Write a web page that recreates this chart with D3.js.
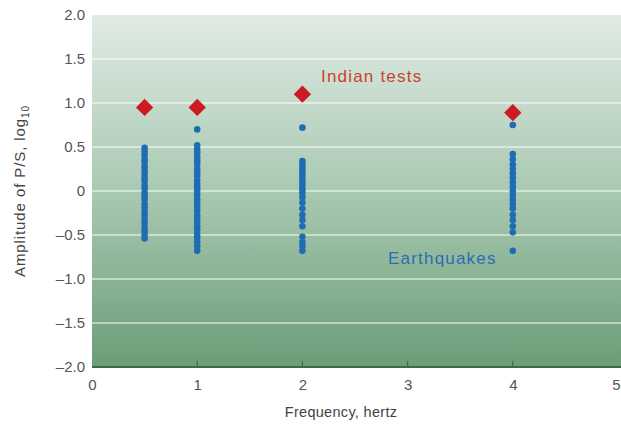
<!DOCTYPE html>
<html><head><meta charset="utf-8">
<script src="https://cdn.jsdelivr.net/npm/d3@7"></script>
<style>body{margin:0;background:#fff}svg{display:block}</style>
</head><body>
<script>
const xTicks = [0,1,2,3,4,5];
const yTicks = [2.0,1.5,1.0,0.5,0,-0.5,-1.0,-1.5,-2.0];
const yTickLabels = ["2.0","1.5","1.0","0.5","0","\u20130.5","\u20131.0","\u20131.5","\u20132.0"];
const testFreq = [0.5, 1, 2, 4];
const testAmp = [0.95, 0.95, 1.10, 0.89];
const eqFreq05 = [0.49,0.45,0.41,0.36,0.33,0.28,0.24,0.2,0.15,0.12,0.07,0.03,-0.02,-0.06,-0.1,-0.15,-0.19,-0.24,-0.28,-0.33,-0.37,-0.42,-0.46,-0.5,-0.54];
const eqFreq1 = [0.7,0.52,0.47,0.43,0.38,0.34,0.3,0.25,0.21,0.17,0.12,0.08,0.04,0,-0.04,-0.09,-0.13,-0.18,-0.22,-0.27,-0.31,-0.35,-0.4,-0.44,-0.49,-0.53,-0.58,-0.63,-0.68];
const eqFreq2 = [0.72,0.34,0.3,0.26,0.22,0.18,0.14,0.1,0.06,0.02,-0.02,-0.07,-0.13,-0.2,-0.27,-0.33,-0.4,-0.52,-0.58,-0.63,-0.68];
const eqFreq4 = [0.75,0.42,0.36,0.3,0.25,0.2,0.15,0.1,0.05,0,-0.05,-0.1,-0.15,-0.2,-0.27,-0.33,-0.4,-0.47,-0.68];

const quakes = [[0.5,eqFreq05],[1,eqFreq1],[2,eqFreq2],[4,eqFreq4]]
  .flatMap(([f,arr]) => arr.map(a => ({f, a})));

const FONT = "Liberation Sans, Arial, sans-serif";
const W = 621, H = 432;
const svg = d3.select("body").append("svg").attr("width", W).attr("height", H);
const x = d3.scaleLinear().domain([0,5]).range([92, 618]);
const y = d3.scaleLinear().domain([-2,2]).range([367, 15]);

const defs = svg.append("defs");
const grad = defs.append("linearGradient").attr("id","bg").attr("x1",0).attr("y1",0).attr("x2",0).attr("y2",1);
grad.append("stop").attr("offset","0%").attr("stop-color","#e1ebe4");
grad.append("stop").attr("offset","50%").attr("stop-color","#a9c9b2");
grad.append("stop").attr("offset","100%").attr("stop-color","#6b9d78");

svg.append("rect").attr("x", x(0)).attr("y", y(2)).attr("width", W - x(0)).attr("height", y(-2) - y(2)).attr("fill","url(#bg)");

// gridlines
svg.append("g").selectAll("line").data(yTicks.filter(v => v > -2 && v < 2)).join("line")
  .attr("x1", x(0)).attr("x2", W).attr("y1", d => y(d)).attr("y2", d => y(d))
  .attr("stroke", "rgba(255,255,255,0.65)").attr("stroke-width", 1.5);

// bottom axis
const xAxis = d3.axisBottom(x).tickValues(xTicks).tickSize(0).tickPadding(12).tickFormat(d3.format("d"));
const gx = svg.append("g").attr("transform", `translate(0,${y(-2)})`).call(xAxis);
gx.select(".domain").remove();
gx.selectAll("text").attr("font-family",FONT).attr("font-size",15).attr("fill","#555")
  .attr("dx", d => d === 5 ? -2 : 0);
svg.append("line").attr("x1", x(0)).attr("x2", W).attr("y1", y(-2)).attr("y2", y(-2)).attr("stroke","#3c6a49").attr("stroke-width",2);
svg.append("g").selectAll("line").data(xTicks.filter(v => v > 0 && v < 5)).join("line")
  .attr("x1", d => x(d)).attr("x2", d => x(d)).attr("y1", y(-2)).attr("y2", y(-2) - 6)
  .attr("stroke","#3c6a49").attr("stroke-width",1.2);

// left axis
const yAxis = d3.axisLeft(y).tickValues(yTicks).tickSize(0).tickPadding(7).tickFormat((d,i) => yTickLabels[i]);
const gy = svg.append("g").attr("transform", `translate(${x(0)},0)`).call(yAxis);
gy.select(".domain").remove();
gy.selectAll("text").attr("font-family",FONT).attr("font-size",15).attr("fill","#555");

// earthquakes
svg.append("g").selectAll("circle").data(quakes).join("circle")
  .attr("cx", d => x(d.f)).attr("cy", d => y(d.a)).attr("r", 3.3).attr("fill", "#1e6db4");

// Indian tests
svg.append("g").selectAll("path").data(testFreq.map((f,i) => ({f, a: testAmp[i]}))).join("path")
  .attr("d", d3.symbol(d3.symbolSquare, 150))
  .attr("transform", d => `translate(${x(d.f)},${y(d.a)}) rotate(45)`)
  .attr("fill", "#cc1a22");

// annotations
svg.append("text").attr("x", 321).attr("y", 82).text("Indian tests")
  .attr("font-family",FONT).attr("font-size",17).attr("letter-spacing",1.2).attr("fill","#c9432e");
svg.append("text").attr("x", 388).attr("y", 264).text("Earthquakes")
  .attr("font-family",FONT).attr("font-size",17).attr("letter-spacing",1.2).attr("fill","#2a6db3");

// axis titles
svg.append("text").attr("x", 341).attr("y", 417).attr("text-anchor","middle").text("Frequency, hertz")
  .attr("font-family",FONT).attr("font-size",14.5).attr("letter-spacing",0.3).attr("fill","#444");
const yt = svg.append("text").attr("transform", `translate(25,${y(0)}) rotate(-90)`).attr("text-anchor","middle")
  .attr("font-family",FONT).attr("font-size",15).attr("letter-spacing",0.9).attr("fill","#444");
yt.append("tspan").text("Amplitude of P/S, log");
yt.append("tspan").attr("font-size",10).attr("dy",4).text("10");
</script>
</body></html>
